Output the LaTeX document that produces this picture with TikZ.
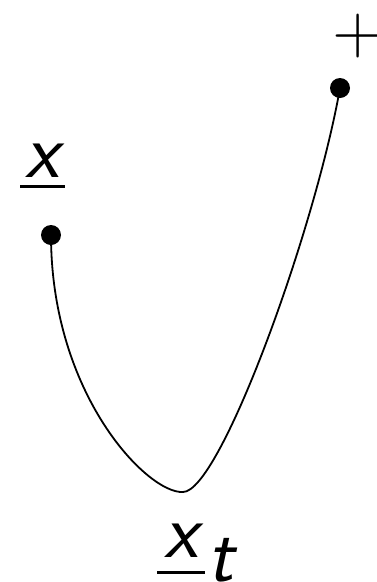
\documentclass[tikz,border=0pt]{standalone}
\usepackage{amsmath,amssymb}
\usetikzlibrary{positioning,calc}

% label with a bar below it: width, gap, text
\newcommand{\barlbl}[3]{\vtop{\hbox to #1{\hss#3\hss}\kern#2\hrule height 3pt}}

\begin{document}
\begin{tikzpicture}[
  x=1pt, y=-1pt,
  dotnode/.style = {circle, fill=black, inner sep=0pt, minimum size=20pt},
  lblnode/.style = {font=\fontsize{78}{80}\selectfont\sffamily\itshape,
                    inner sep=0pt},
  curve/.style   = {line width=1.8pt, black},
]

%%═══════════════════════════════════════════════════════════
%% Frame
%%═══════════════════════════════════════════════════════════

\useasboundingbox (0,0) rectangle (376,582);

%%═══════════════════════════════════════════════════════════
%% Points and labels
%%═══════════════════════════════════════════════════════════

\node[dotnode] (xdot)    at (51,235) {};
\node[dotnode] (plusdot) at (340,88) {};
\coordinate (xtbot) at (183,492);

\node[lblnode, anchor=base west] (xlbl) at (20,177)
  {\barlbl{45pt}{8pt}{x}};
\node[lblnode, anchor=base west] (xtlbl) at (157,557)
  {\barlbl{48pt}{14pt}{x}\kern2pt\lower24pt\hbox{t}};
\node[lblnode, font=\fontsize{70}{72}\selectfont\sffamily] (plus) at (358,36) {+};

%%═══════════════════════════════════════════════════════════
%% Path
%%═══════════════════════════════════════════════════════════

\draw[curve] (xdot.center) .. controls (51,395) and (148,494) .. (xtbot)
  .. controls (220,492) and (315,230) .. (plusdot.center);

\end{tikzpicture}
\end{document}
